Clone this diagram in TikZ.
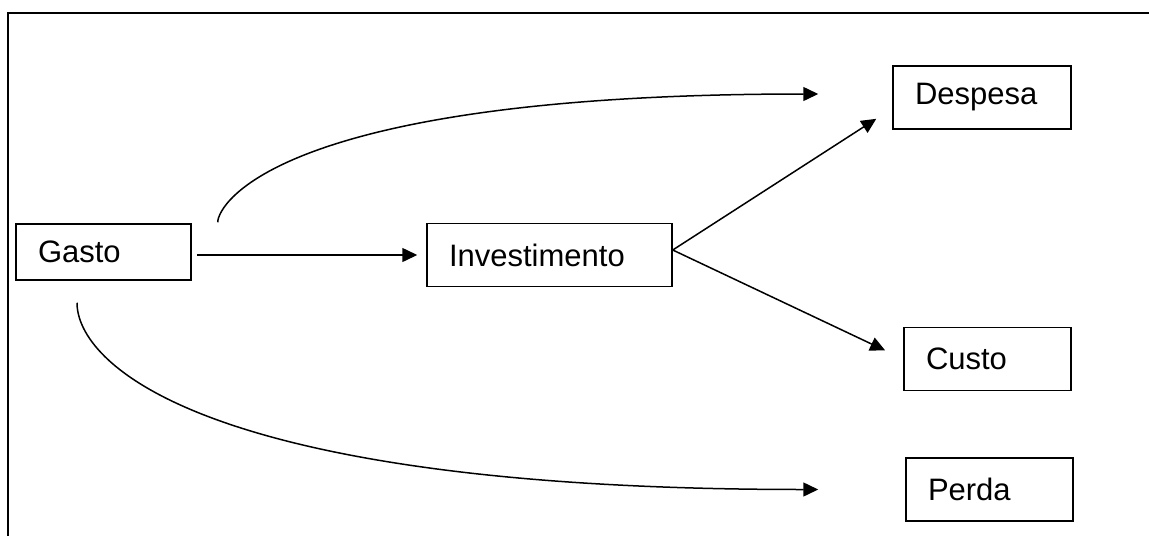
\documentclass[tikz,border=0pt]{standalone}
\usepackage{fontspec}
\setmainfont{Liberation Sans}
\usetikzlibrary{arrows.meta}

\begin{document}
\begin{tikzpicture}[x=1pt,y=-1pt,line width=1.5pt,font=\fontsize{31}{37}\selectfont,
  box/.style={draw,align=left,inner xsep=22pt,minimum height=63pt},
  arr/.style={-{Triangle[length=15pt,width=14pt]}}]
\useasboundingbox (0,0) rectangle (1149,536);
\draw[line width=1.6pt] (1149,13)--(8,13)--(8,536);
\node[box,text width=131pt,minimum height=56pt] (gasto) at (103.5,252) {Gasto};
\node[box,text width=201pt] (invest) at (549.5,255) {Investimento};
\node[box,text width=134pt] (despesa) at (982,97.5) {Despesa};
\node[box,text width=123pt] (custo) at (987.5,359) {Custo};
\node[box,text width=123pt] (perda) at (989.5,489.5) {Perda};
\coordinate (fork) at ([yshift=5pt]invest.east);
\coordinate (gTop) at ([xshift=26pt,yshift=1pt]gasto.north east);
\coordinate (gBot) at ([xshift=-26.5pt,yshift=-22pt]gasto.south);
\coordinate (dTip) at ([xshift=-74pt,yshift=3.5pt]despesa.west);
\coordinate (pTip) at ([xshift=-87pt]perda.west);
\draw[arr,shorten <=5pt,shorten >=9pt] (gasto.east |- invest.west) -- (invest.west);
\draw[arr,shorten >=19pt] (fork) -- ([yshift=-11pt]despesa.west);
\draw[arr,shorten >=20pt] (fork) -- (custo.west);
\draw[arr] (gTop) .. controls +(0,-18) and +(-540,0) .. (dTip);
\draw[arr] (gBot) .. controls +(0,60) and +(-619,0) .. (pTip);
\end{tikzpicture}
\end{document}
